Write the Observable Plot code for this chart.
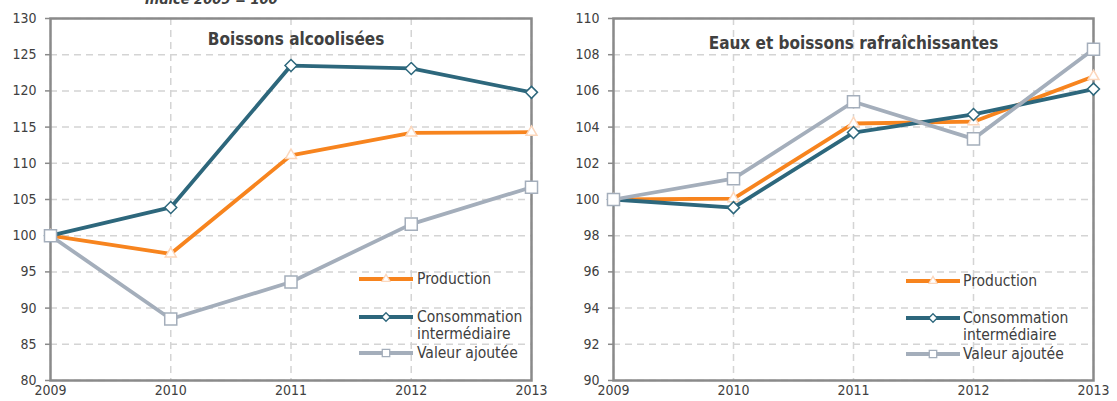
<!DOCTYPE html>
<html>
<head>
<meta charset="utf-8">
<script src="https://cdn.jsdelivr.net/npm/d3@7"></script>
<script src="https://cdn.jsdelivr.net/npm/@observablehq/plot@0.6"></script>
<style>
  body { margin: 0; background: #fff; }
  #wrap { position: relative; width: 1117px; height: 401px; overflow: hidden;
          font-family: "DejaVu Sans Condensed", "DejaVu Sans", sans-serif; font-stretch: condensed; color: #404040; }
  #row { display: flex; flex-direction: row; }
  #row svg { display: block; }
  .subtitle { position: absolute; left: 145px; top: -8.3px; font-size: 14.5px; line-height: 14.5px;
              font-weight: bold; font-style: italic; white-space: nowrap; }
  .lg-text { position: absolute; font-size: 15.5px; line-height: 17px; white-space: nowrap; color: #404040; }
  .lg-sw { position: absolute; overflow: visible; }
</style>
</head>
<body>
<div id="wrap">
  <div id="row"></div>
  <div class="subtitle">Indice 2009 = 100</div>
</div>
<script>
// ---- Data ----
const years = [2009, 2010, 2011, 2012, 2013];
const seriesNames = ["Production", "Consommation intermédiaire", "Valeur ajoutée"];
const legendLabels = [["Production"], ["Consommation", "intermédiaire"], ["Valeur ajoutée"]];

const alcTitle = "Boissons alcoolisées";
const alcProduction = [100, 97.5, 111.1, 114.2, 114.3];
const alcConsommation = [100, 103.9, 123.5, 123.1, 119.8];
const alcValeur = [100, 88.5, 93.6, 101.6, 106.7];
const alcTicks = [80, 85, 90, 95, 100, 105, 110, 115, 120, 125, 130];

const eauTitle = "Eaux et boissons rafraîchissantes";
const eauProduction = [100, 100.05, 104.2, 104.3, 106.8];
const eauConsommation = [100, 99.55, 103.7, 104.7, 106.1];
const eauValeur = [100, 101.15, 105.4, 103.35, 108.3];
const eauTicks = [90, 92, 94, 96, 98, 100, 102, 104, 106, 108, 110];

// ---- Styles ----
const lineColors = ["#F7841E", "#2D677C", "#A4AEBB"];
const markerStrokes = ["#FCD7BC", "#2D677C", "#A4AEBB"];
const markerSymbols = ["triangle2", "diamond2", "square"];
const markerR = [5.2, 5.4, 6.8];
const gridStyle = {stroke: "#d4d4d4", strokeOpacity: 1, strokeWidth: 1.5, strokeDasharray: "7,5"};

function rows(values, name) {
  return years.map((y, i) => ({year: y, value: values[i], series: name}));
}

function panel({title, seriesValues, ticks, width, marginLeft, marginRight, titleDx, titleDy}) {
  const marks = [
    Plot.gridX(years, gridStyle),
    Plot.gridY(ticks, gridStyle),
    Plot.frame({stroke: "#8a8a8a", strokeWidth: 2.5}),
    Plot.axisY(ticks, {label: null, tickSize: 5, tickPadding: 9, stroke: "#8a8a8a", strokeWidth: 1.5, fill: "#404040", fontSize: 14}),
    Plot.axisX(years, {label: null, tickSize: 0, tickPadding: 5, tickFormat: d => String(d), fill: "#404040", fontSize: 14}),
    Plot.text([title], {frameAnchor: "top", dx: titleDx, dy: titleDy, lineAnchor: "middle",
      fontSize: 17, fontWeight: "bold", fill: "#404040"})
  ];
  seriesValues.forEach((vals, i) => {
    const data = rows(vals, seriesNames[i]);
    marks.push(Plot.line(data, {x: "year", y: "value", stroke: lineColors[i], strokeWidth: 3.8}));
    marks.push(Plot.dot(data, {x: "year", y: "value", symbol: () => markerSymbols[i], r: markerR[i],
      fill: "white", stroke: markerStrokes[i], strokeWidth: 1.5}));
  });
  return Plot.plot({
    width, height: 401,
    marginLeft, marginRight, marginTop: 18, marginBottom: 21,
    x: {domain: [2009, 2013], axis: null, label: null},
    y: {domain: [ticks[0], ticks[ticks.length - 1]], axis: null, label: null},
    symbol: {type: "identity"},
    style: {fontFamily: '"DejaVu Sans Condensed", "DejaVu Sans", sans-serif', fontStretch: "condensed", background: "white"},
    marks
  });
}

const row = document.getElementById("row");
row.append(panel({title: alcTitle, seriesValues: [alcProduction, alcConsommation, alcValeur],
  ticks: alcTicks, width: 558, marginLeft: 50, marginRight: 27, titleDx: 5, titleDy: 21}));
row.append(panel({title: eauTitle, seriesValues: [eauProduction, eauConsommation, eauValeur],
  ticks: eauTicks, width: 559, marginLeft: 55, marginRight: 24, titleDx: 0, titleDy: 25}));

// ---- Legends (HTML overlay) ----
const wrap = document.getElementById("wrap");
function legend(x0, x1, textX, ys) {
  ys.forEach((y, i) => {
    const sw = d3.create("svg").attr("class", "lg-sw")
      .attr("width", x1 - x0).attr("height", 16)
      .style("left", x0 + "px").style("top", (y - 8) + "px");
    sw.append("line").attr("x1", 0).attr("x2", x1 - x0).attr("y1", 8).attr("y2", 8)
      .attr("stroke", lineColors[i]).attr("stroke-width", 3.8);
    const s = d3.symbol(d3[{triangle2: "symbolTriangle2", diamond2: "symbolDiamond2", square: "symbolSquare"}[markerSymbols[i]]],
      Math.PI * Math.pow(i === 2 ? 4.2 : 3.8, 2));
    sw.append("path").attr("d", s()).attr("transform", `translate(${(x1 - x0) / 2},8)`)
      .attr("fill", "white").attr("stroke", markerStrokes[i]).attr("stroke-width", 1.3);
    wrap.append(sw.node());
    const t = document.createElement("div");
    t.className = "lg-text";
    t.style.left = textX + "px";
    t.style.top = (y - 8.5) + "px";
    t.innerHTML = legendLabels[i].join("<br>");
    wrap.append(t);
  });
}
legend(359, 413, 417, [279, 317, 353]);
legend(906, 960, 963, [281, 318, 354]);
</script>
</body>
</html>
